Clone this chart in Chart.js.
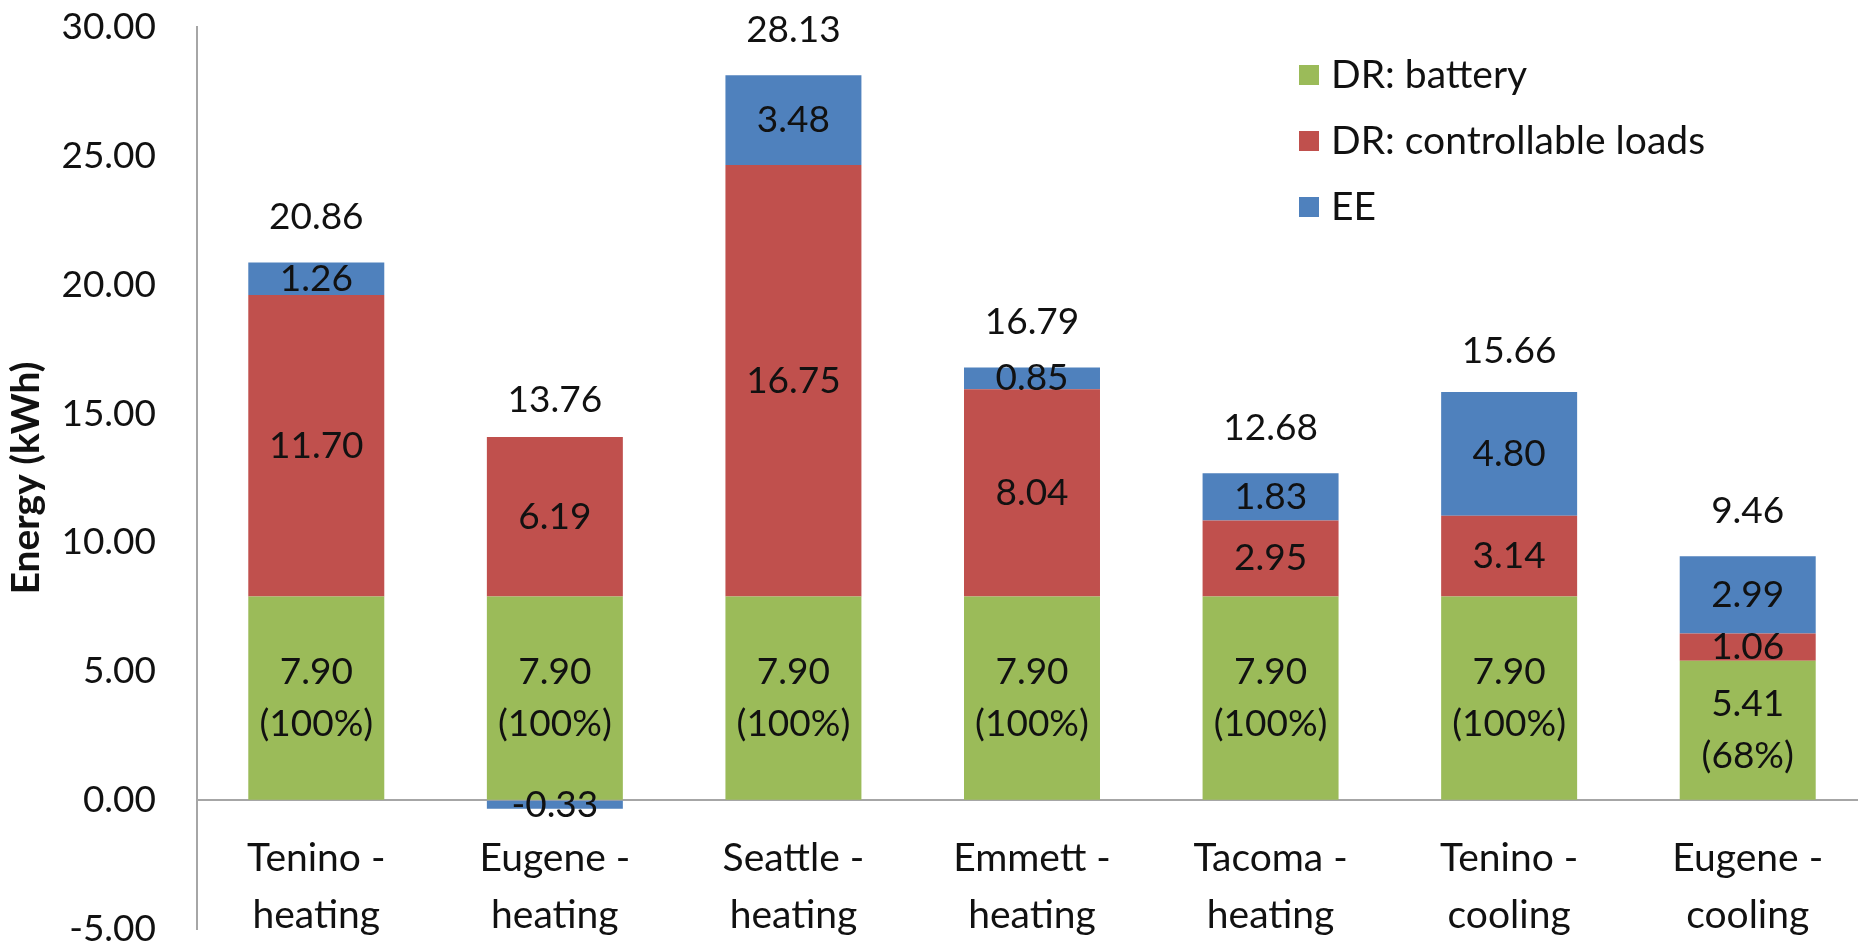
<!DOCTYPE html>
<html>
<head>
<meta charset="utf-8">
<script src="https://cdn.jsdelivr.net/npm/chart.js@4.4.1/dist/chart.umd.min.js"></script>
<style>
  html, body { margin: 0; padding: 0; background: #ffffff; overflow: hidden; }
  #wrap { position: absolute; left: 0; top: 0; width: 1867px; height: 948px; }
</style>
</head>
<body>
<div id="wrap"><canvas id="chart" width="1867" height="948"></canvas></div>
<script>
// Energy savings per site and season, split by source (kWh)
const categories = [
  ['Tenino -', 'heating'],
  ['Eugene -', 'heating'],
  ['Seattle -', 'heating'],
  ['Emmett -', 'heating'],
  ['Tacoma -', 'heating'],
  ['Tenino -', 'cooling'],
  ['Eugene -', 'cooling']
];
const seriesNames = ['DR: battery', 'DR: controllable loads', 'EE'];
const batteryValues = [7.90, 7.90, 7.90, 7.90, 7.90, 7.90, 5.41];
const batteryShare = [100, 100, 100, 100, 100, 100, 68];
const loadValues = [11.70, 6.19, 16.75, 8.04, 2.95, 3.14, 1.06];
const eeValues = [1.26, -0.33, 3.48, 0.85, 1.83, 4.80, 2.99];
const totalLabels = [20.86, 13.76, 28.13, 16.79, 12.68, 15.66, 9.46];
const yTicks = [-5, 0, 5, 10, 15, 20, 25, 30];

const seriesColors = ['#9BBB59', '#C0504D', '#4F81BD'];
const FONT = 'Lato, "Open Sans", sans-serif';
const FONT_SIZE = 37;
const WORD_SIZE = 39;
const TEXT = '#111111';

// Value labels inside each segment, totals above each stack, and the legend
const annotate = {
  id: 'annotate',
  afterDatasetsDraw(chart) {
    const ctx = chart.ctx;
    const y = chart.scales.y;
    ctx.save();
    ctx.fillStyle = TEXT;
    ctx.font = FONT_SIZE + 'px ' + FONT;
    ctx.textAlign = 'center';
    ctx.textBaseline = 'middle';
    chart.data.datasets.forEach((ds, di) => {
      const meta = chart.getDatasetMeta(di);
      meta.data.forEach((bar, i) => {
        const cy = (bar.y + bar.base) / 2;
        const v = ds.data[i].toFixed(2);
        if (di === 0) {
          ctx.fillText(v, bar.x, cy - 26);
          ctx.fillText('(' + batteryShare[i] + '%)', bar.x, cy + 26);
        } else {
          ctx.fillText(v, bar.x, cy);
        }
      });
    });
    const meta0 = chart.getDatasetMeta(0);
    totalLabels.forEach((t, i) => {
      const x = meta0.data[i].x;
      ctx.fillText(t.toFixed(2), x, y.getPixelForValue(t) - 45);
    });

    // legend
    const lx = 1299, ly = [75, 141, 207];
    ctx.font = WORD_SIZE + 'px ' + FONT;
    seriesNames.forEach((name, i) => {
      ctx.fillStyle = seriesColors[i];
      ctx.fillRect(lx, ly[i] - 10, 20, 20);
      ctx.fillStyle = TEXT;
      ctx.textAlign = 'left';
      ctx.fillText(name, lx + 32, ly[i]);
    });
    ctx.restore();
  }
};

new Chart(document.getElementById('chart'), {
  type: 'bar',
  data: {
    labels: categories,
    datasets: [
      { label: seriesNames[0], data: batteryValues, backgroundColor: seriesColors[0] },
      { label: seriesNames[1], data: loadValues, backgroundColor: seriesColors[1] },
      { label: seriesNames[2], data: eeValues, backgroundColor: seriesColors[2] }
    ]
  },
  options: {
    responsive: false,
    animation: false,
    events: [],
    layout: { padding: { top: 27, bottom: 19, left: 0, right: 0 } },
    datasets: { bar: { categoryPercentage: 1, barPercentage: 0.57, borderWidth: 0 } },
    plugins: { legend: { display: false }, tooltip: { enabled: false } },
    scales: {
      x: {
        stacked: true,
        position: { y: 0 },
        afterFit(scale) { scale.height = 0; scale.paddingLeft = 0; scale.paddingRight = 0; },
        grid: { display: true, color: 'rgba(0,0,0,0)', drawTicks: false },
        border: { display: true, color: '#a6a6a6', width: 2 },
        ticks: {
          padding: 30,
          color: TEXT,
          maxRotation: 0,
          autoSkip: false,
          font: { family: FONT, size: WORD_SIZE, lineHeight: 1.45 }
        }
      },
      y: {
        stacked: true,
        min: -5,
        max: 30,
        afterFit(scale) { scale.width = 197; scale.paddingTop = 0; scale.paddingBottom = 0; },
        afterBuildTicks(scale) { scale.ticks = yTicks.map(v => ({ value: v })); },
        grid: { display: true, color: 'rgba(0,0,0,0)', drawTicks: false },
        border: { display: true, color: '#a6a6a6', width: 2 },
        ticks: {
          padding: 41,
          color: TEXT,
          font: { family: FONT, size: FONT_SIZE },
          callback: v => Number(v).toFixed(2)
        },
        title: {
          display: true,
          text: 'Energy (kWh)',
          color: TEXT,
          font: { family: FONT, size: 39, weight: 'bold' },
          padding: { top: 3, bottom: 0 }
        }
      }
    }
  },
  plugins: [annotate]
});
</script>
</body>
</html>
